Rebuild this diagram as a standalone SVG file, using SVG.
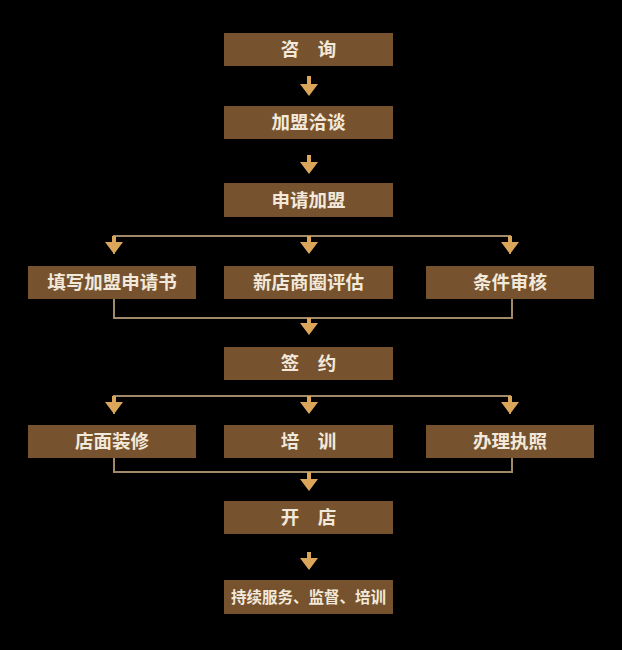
<svg xmlns="http://www.w3.org/2000/svg" width="622" height="650" viewBox="0 0 622 650">
<defs>
<style>
.box{fill:#77522e;}
.lbl{font-family:"Noto Sans CJK SC","Noto Sans",sans-serif;font-weight:bold;font-size:18.5px;fill:#f2e9da;text-anchor:middle;}
.sm{font-size:15.5px;}
.ln{fill:none;stroke:#a08a68;stroke-width:2;}
.ar{fill:#dca65a;}
</style>
</defs>
<rect width="622" height="650" fill="#000"/>
<g id="connectors">
<path class="ln" d="M114,254 V236 H510 V254"/>
<path class="ln" d="M114,299 V318 H512 V299"/>
<path class="ln" d="M114,414 V396 H510 V414"/>
<path class="ln" d="M114,458 V472 H512 V458"/>
<path class="ar" d="M307,76 h4 v8 h7 L309,96 L300,84 h7 z"/>
<path class="ar" d="M307,155 h4 v7 h7 L309,174 L300,162 h7 z"/>
<path class="ar" d="M112,236 h4 v6 h7 L114,254 L105,242 h7 z"/>
<path class="ar" d="M307,236 h4 v6 h7 L309,254 L300,242 h7 z"/>
<path class="ar" d="M508,236 h4 v6 h7 L510,254 L501,242 h7 z"/>
<path class="ar" d="M307,318 h4 v5 h7 L309,335 L300,323 h7 z"/>
<path class="ar" d="M112,396 h4 v6 h7 L114,414 L105,402 h7 z"/>
<path class="ar" d="M307,396 h4 v6 h7 L309,414 L300,402 h7 z"/>
<path class="ar" d="M508,396 h4 v6 h7 L510,414 L501,402 h7 z"/>
<path class="ar" d="M307,472 h4 v7 h7 L309,491 L300,479 h7 z"/>
<path class="ar" d="M307,552 h4 v6 h7 L309,570 L300,558 h7 z"/>
</g>
<g id="n1"><rect class="box" x="224" y="33" width="169" height="33"/><text class="lbl" x="308.5" y="56">咨　询</text></g>
<g id="n2"><rect class="box" x="224" y="106" width="169" height="33"/><text class="lbl" x="308.5" y="129">加盟洽谈</text></g>
<g id="n3"><rect class="box" x="224" y="183" width="169" height="34"/><text class="lbl" x="308.5" y="206.5">申请加盟</text></g>
<g id="n4"><rect class="box" x="28" y="266" width="168" height="33"/><text class="lbl" x="112" y="289">填写加盟申请书</text></g>
<g id="n5"><rect class="box" x="224" y="266" width="169" height="33"/><text class="lbl" x="308.5" y="289">新店商圈评估</text></g>
<g id="n6"><rect class="box" x="426" y="266" width="168" height="33"/><text class="lbl" x="510" y="289">条件审核</text></g>
<g id="n7"><rect class="box" x="224" y="347" width="169" height="33"/><text class="lbl" x="308.5" y="370">签　约</text></g>
<g id="n8"><rect class="box" x="28" y="425" width="168" height="33"/><text class="lbl" x="112" y="448">店面装修</text></g>
<g id="n9"><rect class="box" x="224" y="425" width="169" height="33"/><text class="lbl" x="308.5" y="448">培　训</text></g>
<g id="n10"><rect class="box" x="426" y="425" width="168" height="33"/><text class="lbl" x="510" y="448">办理执照</text></g>
<g id="n11"><rect class="box" x="224" y="501" width="169" height="33"/><text class="lbl" x="308.5" y="524">开　店</text></g>
<g id="n12"><rect class="box" x="224" y="580" width="169" height="34"/><text class="lbl sm" x="308.5" y="602.5">持续服务、监督、培训</text></g>
</svg>
